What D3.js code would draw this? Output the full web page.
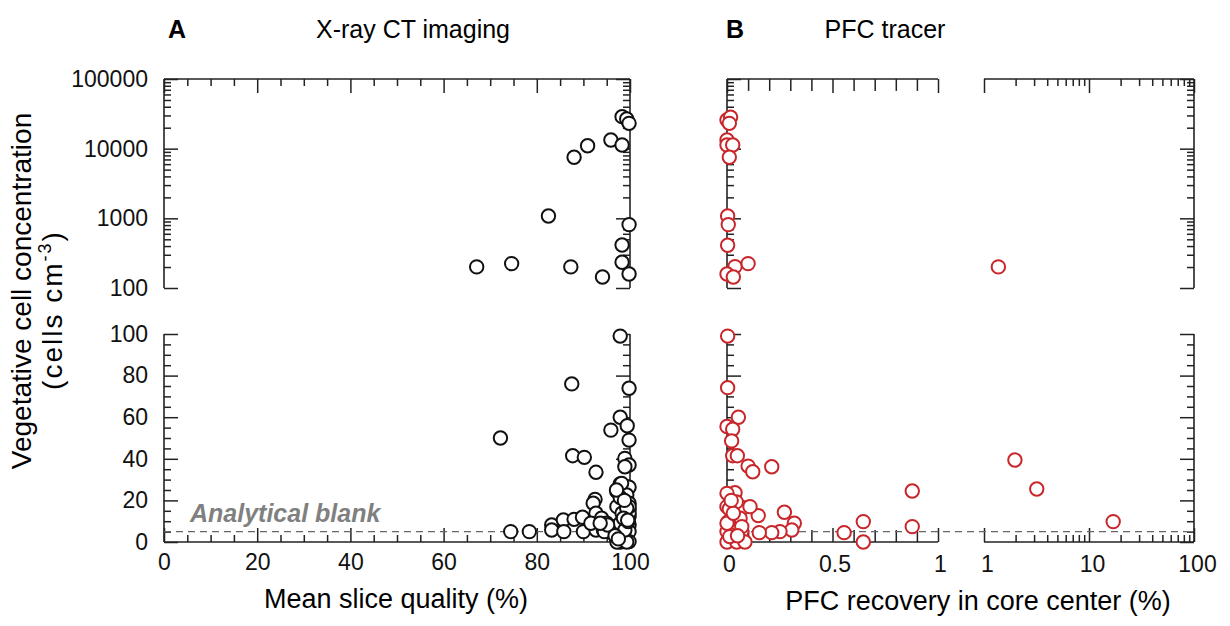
<!DOCTYPE html>
<html><head><meta charset="utf-8">
<script src="https://cdn.jsdelivr.net/npm/d3@7"></script>
<style>
html,body{margin:0;padding:0;background:#fff;}
svg{display:block;}
</style></head>
<body>
<svg id="chart" width="1230" height="626"></svg>
<script>
// ---------------- DATA ----------------
// Panel A: X-ray CT imaging (mean slice quality %, cells/cm3)
const ctHighX = [98.3, 99.3, 99.8, 95.9, 98.3, 90.9, 88.0, 82.5, 99.8, 98.3, 98.3, 99.8, 67.1, 74.6, 87.3, 94.1];
const ctHighY = [28800, 26700, 23100, 13300, 11300, 11000, 7530, 1080, 813, 415, 234, 159, 201, 224, 201, 144];
const ctLowX = [97.9, 87.5, 99.8, 72.2, 97.9, 99.4, 95.9, 99.8, 87.7, 90.2, 98.9, 99.8, 98.9, 92.7,
  92.5, 92.1, 97.9, 99.8, 97.2, 99.3, 99.8, 99.8, 97.2, 99.8, 99.8, 99.8, 99.8, 97.9,
  74.4, 78.4, 83.2, 83.2, 85.7, 85.8, 88.0, 89.8, 90.0, 92.7, 92.7, 93.9, 95.0, 94.3,
  95.7, 96.4, 97.2, 96.4, 97.9, 98.3, 98.6, 99.3, 98.9, 99.6, 99.8, 99.8, 99.3, 98.6,
  94.5, 95.2, 91.6, 93.6, 97.9, 98.2, 97.1, 96.8, 97.5, 98.8, 99.5];
const ctLowY = [99.0, 76.0, 73.9, 50.0, 60.0, 55.9, 53.8, 49.0, 41.5, 40.7, 40.2, 37.0, 36.2, 33.5,
  20.5, 18.6, 27.9, 26.3, 24.2, 22.6, 18.6, 15.4, 17.0, 12.2, 8.2, 5.0, 0.2, 0.0,
  5.0, 5.0, 8.2, 5.8, 10.6, 5.0, 10.9, 11.9, 5.0, 13.8, 5.8, 11.4, 9.0, 5.8,
  6.6, 4.2, 0.0, 7.4, 9.0, 13.8, 2.6, 0.0, 5.8, 9.8, 13.8, 17.0, 16.2, 11.4,
  5.0, 8.2, 9.0, 9.0, 21.4, 28.2, 25.0, 3.0, 1.5, 20.0, 10.5];

// Panel B: PFC tracer (PFC recovery in core center %, cells/cm3)
const pfcHighX = [0.0, 0.017, 0.011, 0.0, 0.0, 0.027, 0.011, 0.003, 0.006, 0.003, 0.038, 0.10, 0.0, 0.03, 1.37];
const pfcHighY = [25800, 28200, 23100, 13300, 11300, 11300, 7530, 1080, 813, 411, 203, 224, 159, 144, 201];
const pfcLowX = [0.003, 0.003, 0.054, 0.0, 0.027, 0.022, 0.027, 0.049, 0.10, 0.122, 0.212, 1.97, 3.18,
  0.878, 0.878, 17.0, 0.646, 0.646, 0.555, 0.272, 0.319, 0.307, 0.251, 0.212, 0.153, 0.148,
  0.077, 0.109, 0.038, 0.0, 0.0, 0.011, 0.044, 0.062, 0.006, 0.0, 0.07, 0.0, 0.046, 0.085,
  0.0, 0.03, 0.07, 0.013, 0.02, 0.05];
const pfcLowY = [99.0, 74.2, 60.0, 55.5, 54.2, 48.6, 41.5, 41.5, 36.5, 33.8, 36.2, 39.4, 25.5,
  24.5, 7.4, 9.8, 9.8, 0.0, 4.5, 14.3, 9.0, 5.8, 5.0, 4.5, 4.5, 12.7,
  16.5, 17.0, 23.7, 23.4, 17.0, 15.9, 19.3, 11.4, 9.8, 5.0, 5.0, 0.0, 0.0, 0.0,
  9.0, 13.8, 7.4, 2.6, 20.0, 3.0];

const blankLevel = 5;
const yLogTicks = [100, 1000, 10000, 100000];
const yLinTicks = [0, 20, 40, 60, 80, 100];
const xATicks = [0, 20, 40, 60, 80, 100];
const xBLinTicks = [0, 0.5, 1];
const xBLogTicks = [1, 10, 100];

// ---------------- LAYOUT ----------------
const FONT = "'Liberation Sans', Arial, Helvetica, sans-serif";
const svg = d3.select("#chart");
const AX = "#222";

const yHi = d3.scaleLog().domain([100, 100000]).range([288, 79]);
const yLo = d3.scaleLinear().domain([0, 100]).range([542, 334]);
const xA = d3.scaleLinear().domain([0, 100]).range([164, 630]);
const xBlin = d3.scaleLinear().domain([0, 1]).range([727, 938]);
const xBlog = d3.scaleLog().domain([1, 100]).range([984, 1194]);
const xB = v => v <= 1 ? xBlin(v) : xBlog(v);

const MAJ = 14, MIN = 7;
const logMinorY = [];
[100, 1000, 10000].forEach(d => { for (let k = 2; k <= 9; k++) logMinorY.push(d * k); });
const logMinorX = [];
[1, 10].forEach(d => { for (let k = 2; k <= 9; k++) logMinorX.push(d * k); });
const linMinorY = d3.range(0, 101, 5).filter(v => v % 20 !== 0);
const linMinorA = d3.range(0, 101, 5).filter(v => v % 20 !== 0);
const linMinorB = d3.range(1, 10).map(i => i / 10).filter(v => Math.abs(v - 0.5) > 1e-6);

function ticks(axisGen, scale, values, size, tx, ty) {
  const g = svg.append("g").attr("transform", `translate(${tx},${ty})`)
    .call(axisGen(scale).tickValues(values).tickSize(size).tickSizeOuter(0).tickFormat(""));
  g.select(".domain").remove();
  g.selectAll(".tick line").attr("stroke", AX).attr("stroke-width", 1.5);
  return g;
}
function line(x1, y1, x2, y2) {
  svg.append("line").attr("x1", x1).attr("y1", y1).attr("x2", x2).attr("y2", y2)
    .attr("stroke", AX).attr("stroke-width", 1.6);
}

// ---- Panel A frame ----
line(164, 79, 630, 79);
line(164, 79, 164, 288);
line(630, 79, 630, 288);
ticks(d3.axisTop, xA, xATicks, -MAJ, 0, 79);
ticks(d3.axisTop, xA, linMinorA, -MIN, 0, 79);
ticks(d3.axisRight, yHi, yLogTicks, MAJ, 164, 0);
ticks(d3.axisRight, yHi, logMinorY, MIN, 164, 0);
ticks(d3.axisLeft, yHi, yLogTicks, MAJ, 630, 0);
ticks(d3.axisLeft, yHi, logMinorY, MIN, 630, 0);
line(164, 542, 630, 542);
line(164, 334, 164, 542);
line(630, 334, 630, 542);
ticks(d3.axisBottom, xA, xATicks, -MAJ, 0, 542);
ticks(d3.axisBottom, xA, linMinorA, -MIN, 0, 542);
ticks(d3.axisRight, yLo, yLinTicks, MAJ, 164, 0);
ticks(d3.axisRight, yLo, linMinorY, MIN, 164, 0);
ticks(d3.axisLeft, yLo, yLinTicks, MAJ, 630, 0);
ticks(d3.axisLeft, yLo, linMinorY, MIN, 630, 0);

// ---- Panel B frame ----
line(727, 79, 938, 79);
line(984, 79, 1194, 79);
line(727, 79, 727, 288);
line(1194, 79, 1194, 288);
ticks(d3.axisTop, xBlin, xBLinTicks, -MAJ, 0, 79);
ticks(d3.axisTop, xBlin, linMinorB, -MAJ * 0.85, 0, 79);
ticks(d3.axisTop, xBlog, xBLogTicks, -MAJ, 0, 79);
ticks(d3.axisTop, xBlog, logMinorX, -MIN, 0, 79);
ticks(d3.axisRight, yHi, yLogTicks, MAJ, 727, 0);
ticks(d3.axisRight, yHi, logMinorY, MIN, 727, 0);
ticks(d3.axisLeft, yHi, yLogTicks, MAJ, 1194, 0);
ticks(d3.axisLeft, yHi, logMinorY, MIN, 1194, 0);
line(727, 542, 938, 542);
line(984, 542, 1194, 542);
line(727, 334, 727, 542);
line(1194, 334, 1194, 542);
ticks(d3.axisBottom, xBlin, xBLinTicks, -MAJ, 0, 542);
ticks(d3.axisBottom, xBlin, linMinorB, -MAJ * 0.85, 0, 542);
ticks(d3.axisBottom, xBlog, xBLogTicks, -MAJ, 0, 542);
ticks(d3.axisBottom, xBlog, logMinorX, -MIN, 0, 542);
ticks(d3.axisRight, yLo, yLinTicks, MAJ, 727, 0);
ticks(d3.axisRight, yLo, linMinorY, MIN, 727, 0);
ticks(d3.axisLeft, yLo, yLinTicks, MAJ, 1194, 0);
ticks(d3.axisLeft, yLo, linMinorY, MIN, 1194, 0);

// ---- Tick labels ----
function labels(axisGen, scale, values, fmt, pad, tx, ty) {
  const g = svg.append("g").attr("transform", `translate(${tx},${ty})`)
    .call(axisGen(scale).tickValues(values).tickSize(0).tickPadding(pad).tickFormat(fmt));
  g.select(".domain").remove();
  g.selectAll("text").attr("font-family", FONT).attr("font-size", 23).attr("fill", "#111");
  return g;
}
labels(d3.axisLeft, yHi, yLogTicks, d3.format("d"), 16, 164, 0);
labels(d3.axisLeft, yLo, yLinTicks, d3.format("d"), 16, 164, 0);
labels(d3.axisBottom, xA, xATicks, d3.format("d"), 12, 0, 542);
labels(d3.axisBottom, xBlin, xBLinTicks, d => d === 0.5 ? "0.5" : d3.format("d")(d), 14, 2, 542);
labels(d3.axisBottom, xBlog, xBLogTicks, d3.format("d"), 14, 3, 542);

// ---- Blank (dashed) lines ----
svg.append("line").attr("x1", 164).attr("x2", 630).attr("y1", yLo(blankLevel)).attr("y2", yLo(blankLevel))
  .attr("stroke", "#666").attr("stroke-width", 1.1).attr("stroke-dasharray", "7,5");
svg.append("line").attr("x1", 727).attr("x2", 1194).attr("y1", yLo(blankLevel)).attr("y2", yLo(blankLevel))
  .attr("stroke", "#666").attr("stroke-width", 1.1).attr("stroke-dasharray", "7,5");
svg.append("text").attr("x", 190).attr("y", yLo(blankLevel) - 10)
  .attr("font-family", FONT).attr("font-size", 25).attr("font-weight", "bold").attr("font-style", "italic")
  .attr("fill", "#808080").text("Analytical blank");

// ---- Points ----
const R = 6.7, SW = 2;
function dots(xs, ys, xf, yf, color) {
  const data = xs.map((x, i) => ({x, y: ys[i]}));
  svg.append("g").selectAll("circle").data(data).join("circle")
    .attr("cx", d => xf(d.x)).attr("cy", d => yf(d.y)).attr("r", R)
    .attr("fill", "#fff").attr("stroke", color).attr("stroke-width", SW);
}
dots(ctHighX, ctHighY, xA, yHi, "#111");
dots(ctLowX, ctLowY, xA, yLo, "#111");
const RED = "#c8262a";
dots(pfcHighX, pfcHighY, xB, yHi, RED);
dots(pfcLowX, pfcLowY, xB, yLo, RED);

// ---- Titles ----
svg.append("text").attr("x", 177).attr("y", 38).attr("text-anchor", "middle")
  .attr("font-family", FONT).attr("font-size", 25).attr("font-weight", "bold").text("A");
svg.append("text").attr("x", 413).attr("y", 38).attr("text-anchor", "middle")
  .attr("font-family", FONT).attr("font-size", 25).text("X-ray CT imaging");
svg.append("text").attr("x", 735).attr("y", 38).attr("text-anchor", "middle")
  .attr("font-family", FONT).attr("font-size", 25).attr("font-weight", "bold").text("B");
svg.append("text").attr("x", 885).attr("y", 38).attr("text-anchor", "middle")
  .attr("font-family", FONT).attr("font-size", 25).text("PFC tracer");

// ---- Axis titles ----
svg.append("text").attr("x", 396).attr("y", 608).attr("text-anchor", "middle")
  .attr("font-family", FONT).attr("font-size", 27).text("Mean slice quality (%)");
svg.append("text").attr("x", 978).attr("y", 610).attr("text-anchor", "middle")
  .attr("font-family", FONT).attr("font-size", 27).text("PFC recovery in core center (%)");

const yl = svg.append("g");
yl.append("text").attr("transform", "translate(31,291) rotate(-90)").attr("text-anchor", "middle")
  .attr("font-family", FONT).attr("font-size", 28).text("Vegetative cell concentration");
const t2 = yl.append("text").attr("transform", "translate(62,310) rotate(-90)").attr("text-anchor", "middle")
  .attr("font-family", FONT).attr("font-size", 28).attr("letter-spacing", 2);
t2.append("tspan").text("(cells cm");
t2.append("tspan").attr("font-size", 18).attr("dy", -11).text("-3");
t2.append("tspan").attr("dy", 11).text(")");
</script>
</body></html>
